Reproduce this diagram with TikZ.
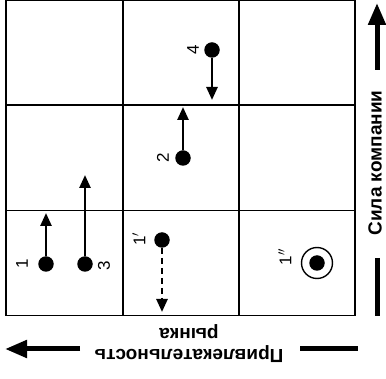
\documentclass[tikz,border=0pt]{standalone}
\usepackage{fontspec}
\setmainfont{Liberation Sans}
\usetikzlibrary{arrows.meta}
\begin{document}
\begin{tikzpicture}[x=1pt,y=-1pt,
  gridline/.style={line width=1.4pt},
  dot/.style={circle,fill=black,inner sep=0pt,minimum size=15.5pt},
  ring/.style={circle,draw=black,line width=1.4pt,inner sep=0pt,minimum size=31pt},
  mv/.style={line width=2.6pt,-{Triangle[length=13pt,width=11pt]}},
  mvdash/.style={mv,dash pattern=on 6pt off 4pt},
  lbl/.style={font=\fontsize{17}{17}\selectfont,rotate=90,inner sep=0pt},
  axis/.style={line width=5pt},
  axarrow/.style={axis,-{Triangle[length=22pt,width=17pt]}},
  axlbl/.style={font=\bfseries\fontsize{19}{21}\selectfont,align=center,inner sep=0pt}]
\useasboundingbox (0,0) rectangle (386,379);
% grid
\draw[gridline] (6,0.7) rectangle (355,315.5);
\draw[gridline] (123,0.7) -- (123,315.5);
\draw[gridline] (239,0.7) -- (239,315.5);
\draw[gridline] (6,105) -- (355,105);
\draw[gridline] (6,210.5) -- (355,210.5);
% dots
\node[dot] (d1) at (46,264) {};
\node[dot] (d3) at (85,264) {};
\node[dot] (d2) at (183,158) {};
\node[dot] (d4) at (212,50) {};
\node[dot] (d1p) at (162,240) {};
\node[ring] (r1pp) at (317,263) {};
\node[dot] (d1pp) at (r1pp.center) {};
% arrow ends
\coordinate (t1) at (46,213);
\coordinate (t3) at (85,175);
\coordinate (t2) at (183,107);
\coordinate (t4) at (212,100);
\coordinate (t1p) at (162,312);
\draw[mv] (d1) -- (t1);
\draw[mv] (d3) -- (t3);
\draw[mv] (d2) -- (t2);
\draw[mv] (d4) -- (t4);
\draw[mvdash] (d1p) -- (t1p);
% labels
\node[lbl] (l1) at (22,264) {1};
\node[lbl] (l3) at (104,266) {3};
\node[lbl] (l2) at (163,158) {2};
\node[lbl] (l4) at (193,50) {4};
\node[lbl] (l1p) at (139,239) {1$'$};
\node[lbl] (l1pp) at (285,257) {1$''$};
% vertical axis
\coordinate (ya) at (377,70);
\coordinate (yt) at (377,3);
\coordinate (yb1) at (377,258);
\coordinate (yb2) at (377,316);
\draw[axarrow] (ya) -- (yt);
\draw[axis] (yb1) -- (yb2);
\node[axlbl,rotate=90] (ylab) at (375,163) {Сила компании};
% horizontal axis
\coordinate (xa) at (80,349);
\coordinate (xt) at (5,349);
\coordinate (xb1) at (300,349);
\coordinate (xb2) at (358,349);
\draw[axarrow] (xa) -- (xt);
\draw[axis] (xb1) -- (xb2);
\node[axlbl,rotate=180] (xlab) at (189,344) {Привлекательность\\рынка};
\end{tikzpicture}
\end{document}
